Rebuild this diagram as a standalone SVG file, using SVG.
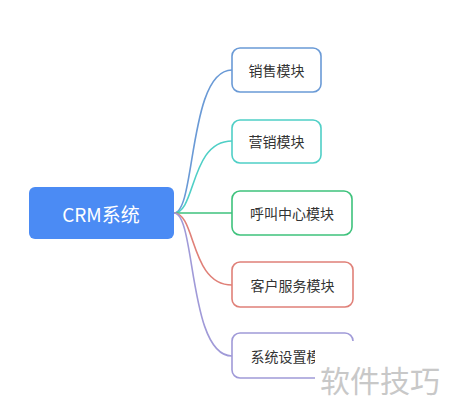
<svg xmlns="http://www.w3.org/2000/svg" width="450" height="415" viewBox="0 0 450 415">
<style>
.node rect{fill:#fff;stroke-width:1.6}
.node text{font-family:"Noto Sans CJK SC","Noto Sans",sans-serif;font-size:14px;fill:#333;text-anchor:middle;dominant-baseline:central}
.links path{fill:none;stroke-width:1.6}
</style>
<rect width="450" height="415" fill="#fff"/>
<g class="links">
<path d="M174,213 C196,213 188,70 232,70" stroke="#6a9ad6"/>
<path d="M174,213 C196,213 190,141 232,141" stroke="#4fcfc6"/>
<path d="M174,213 L232,213" stroke="#3ec27c"/>
<path d="M174,213 C196,213 190,285 232,285" stroke="#e08078"/>
<path d="M174,213 C196,213 188,356 232,356" stroke="#a09ad8"/>
</g>
<g id="root">
<rect x="29" y="187" width="145" height="52" rx="6" fill="#4b8bf4"/>
<text x="101" y="213" font-family="Noto Sans CJK SC, Noto Sans, sans-serif" font-size="19" fill="#fff" text-anchor="middle" dominant-baseline="central">CRM系统</text>
</g>
<g id="n1" class="node">
<rect x="232" y="48" width="89" height="44" rx="8" stroke="#6a9ad6"/>
<text x="276.5" y="70">销售模块</text>
</g>
<g id="n2" class="node">
<rect x="232" y="120" width="89" height="43" rx="8" stroke="#4fcfc6"/>
<text x="276.5" y="141">营销模块</text>
</g>
<g id="n3" class="node">
<rect x="232" y="191" width="120" height="44" rx="8" stroke="#3ec27c"/>
<text x="292" y="213">呼叫中心模块</text>
</g>
<g id="n4" class="node">
<rect x="232" y="262" width="121" height="45" rx="8" stroke="#e08078"/>
<text x="292.5" y="285">客户服务模块</text>
</g>
<g id="n5" class="node">
<rect x="232" y="333" width="121" height="45" rx="8" stroke="#a09ad8"/>
<text x="292.5" y="356">系统设置模块</text>
</g>
<g id="watermark">
<rect x="315" y="341" width="135" height="74" fill="#fff"/>
<text x="320" y="392" font-family="Noto Sans CJK SC, sans-serif" font-size="30" fill="#c8c8c8">软件技巧</text>
</g>
</svg>
